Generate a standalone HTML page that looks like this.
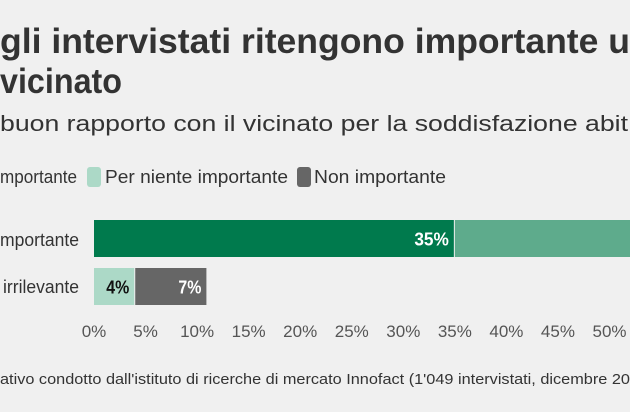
<!DOCTYPE html>
<html><head><meta charset="utf-8"><style>
html,body{margin:0;padding:0;background:#f0f0f0;}
svg{display:block;font-family:"Liberation Sans",sans-serif;}
</style></head><body>
<svg width="630" height="412" viewBox="0 0 630 412">
<rect width="630" height="412" fill="#f0f0f0"/>
<text x="0" y="53" font-size="35" font-weight="bold" fill="#333" textLength="630" lengthAdjust="spacingAndGlyphs">gli intervistati ritengono importante u</text>
<text x="0" y="93" font-size="35" font-weight="bold" fill="#333" textLength="122" lengthAdjust="spacingAndGlyphs">vicinato</text>
<text x="0" y="131" font-size="22" fill="#333" textLength="628" lengthAdjust="spacingAndGlyphs">buon rapporto con il vicinato per la soddisfazione abit</text>
<g>
<text x="0" y="183" font-size="18" fill="#333" textLength="77" lengthAdjust="spacingAndGlyphs">mportante</text>
<rect x="87" y="167" width="14" height="20" rx="3" fill="#acd9c7"/>
<text x="105" y="183" font-size="18" fill="#333" textLength="183" lengthAdjust="spacingAndGlyphs">Per niente importante</text>
<rect x="297" y="167" width="14" height="20" rx="3" fill="#666"/>
<text x="314" y="183" font-size="18" fill="#333" textLength="132" lengthAdjust="spacingAndGlyphs">Non importante</text>
</g>
<text x="0" y="246" font-size="18" fill="#333" textLength="79" lengthAdjust="spacingAndGlyphs">mportante</text>
<text x="3" y="293" font-size="18" fill="#333" textLength="76" lengthAdjust="spacingAndGlyphs">irrilevante</text>
<g id="bars"></g>
<g id="ticks"></g>
<text x="0" y="384" font-size="15" fill="#333" textLength="630" lengthAdjust="spacingAndGlyphs">ativo condotto dall'istituto di ricerche di mercato Innofact (1'049 intervistati, dicembre 20</text>
</svg>
<script>
const row1Values = [35, 30];
const row1Colors = ['#007a4d', '#5eab8c'];
const row1Labels = ['35%', ''];
const row2Values = [4, 7];
const row2Colors = ['#acd9c7', '#666666'];
const row2Labels = ['4%', '7%'];
const row2LabelColors = ['#111', '#fff'];
const tickValues = [0, 5, 10, 15, 20, 25, 30, 35, 40, 45, 50];
const tickLabels = ['0%','5%','10%','15%','20%','25%','30%','35%','40%','45%','50%'];
const NS = 'http://www.w3.org/2000/svg';
function x(v){ return 94 + v * 10.31; }
const bars = document.getElementById('bars');
function drawRow(vals, cols, labels, lcols, y, h, nm){
  let acc = 0;
  vals.forEach((v, i) => {
    const r = document.createElementNS(NS, 'rect');
    
    
    const x0 = x(acc), x1 = x(acc + v);
    r.setAttribute('x', x0); r.setAttribute('y', y);
    r.setAttribute('width', Math.max(0, x1 - x0 - 1)); r.setAttribute('height', h);
    r.setAttribute('fill', cols[i]);
    bars.appendChild(r);
    if (labels[i]) {
      const t = document.createElementNS(NS, 'text');
      
      
      t.setAttribute('x', x1 - 6); t.setAttribute('y', y + h / 2 + 7);
      t.setAttribute('text-anchor', 'end'); t.setAttribute('font-size', '18');
      t.setAttribute('font-weight', 'bold'); t.setAttribute('fill', lcols ? lcols[i] : '#fff');
      t.setAttribute('textLength', labels[i].length * 11.5);
      t.setAttribute('lengthAdjust', 'spacingAndGlyphs');
      t.textContent = labels[i];
      bars.appendChild(t);
    }
    acc += v;
  });
}
drawRow(row1Values, row1Colors, row1Labels, null, 220, 37, 'row-1');
drawRow(row2Values, row2Colors, row2Labels, row2LabelColors, 268, 37, 'row-2');
const ticks = document.getElementById('ticks');
tickValues.forEach((v, i) => {
  const t = document.createElementNS(NS, 'text');
  
  
  t.setAttribute('x', x(v)); t.setAttribute('y', 337);
  t.setAttribute('text-anchor', 'middle'); t.setAttribute('font-size', '17');
  t.setAttribute('fill', '#555');
  t.textContent = tickLabels[i];
  ticks.appendChild(t);
});
</script>
</body></html>
